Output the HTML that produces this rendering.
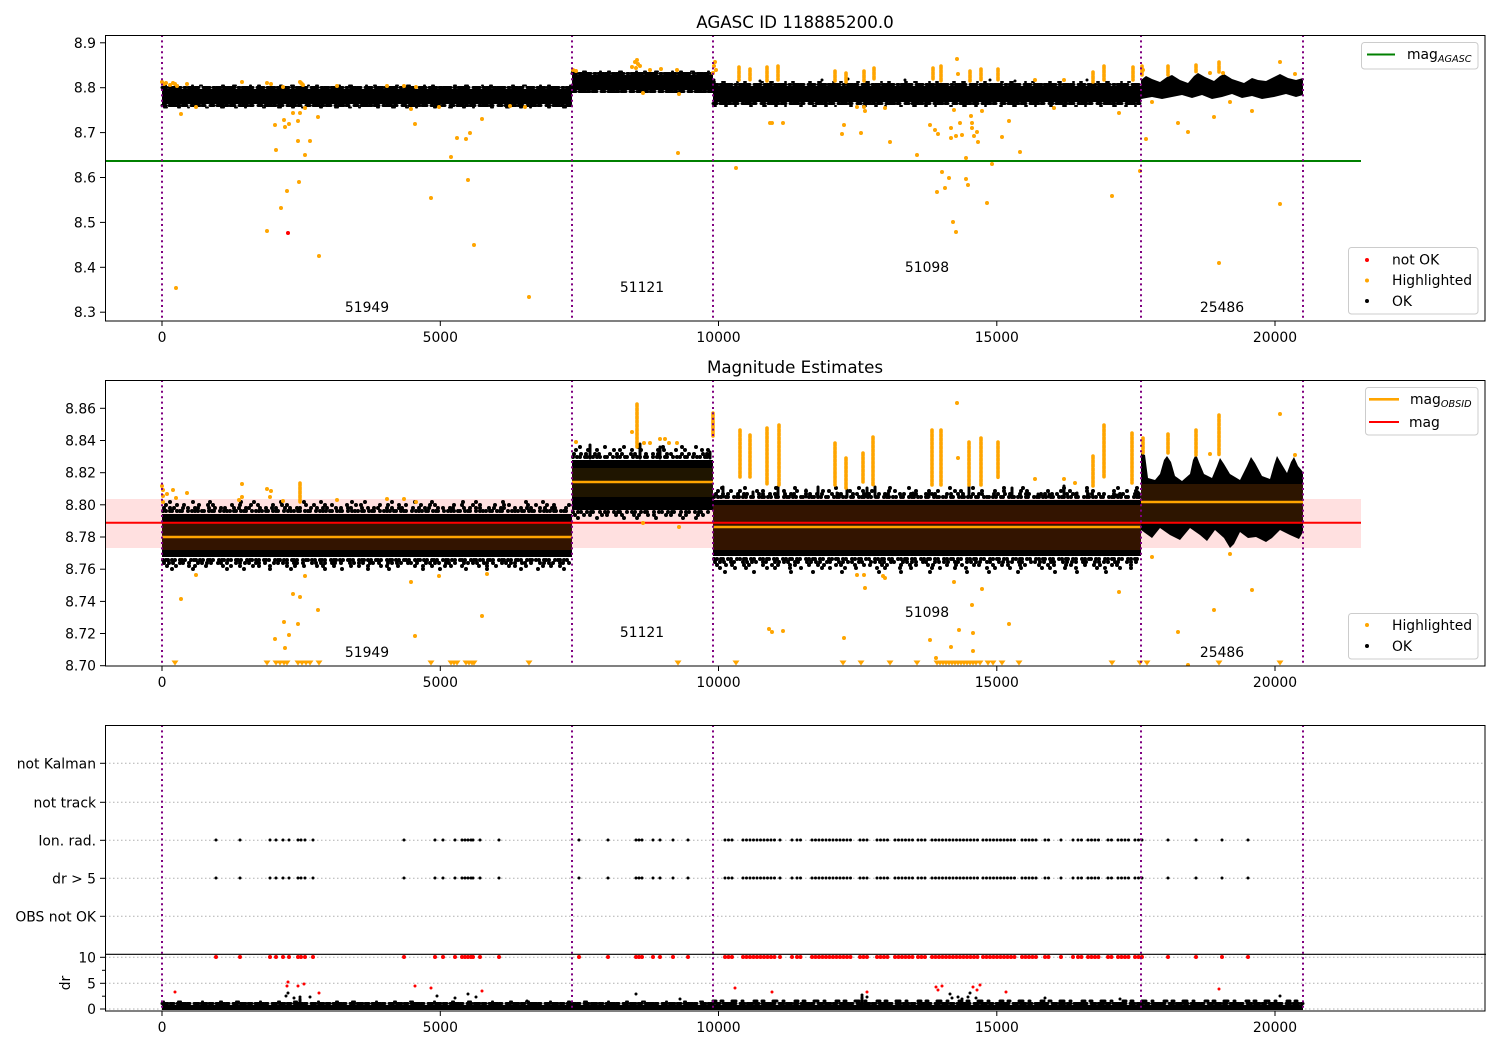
<!DOCTYPE html>
<html><head><meta charset="utf-8">
<style>
html,body{margin:0;padding:0;background:#fff}
svg{display:block}
text{font-family:"DejaVu Sans","Liberation Sans",sans-serif;fill:#000}
.tk{font-size:13.9px}
.bd{stroke:#000;stroke-linecap:round;fill:none}
.od{stroke:#ffa500;stroke-linecap:round;fill:none}
.oc{stroke:#ffa500;stroke-linecap:round;fill:none;stroke-width:3.6;stroke-dasharray:2.5 1.6}
.pv{stroke:#800080;stroke-width:2;stroke-dasharray:2 3.4}
.gr{stroke:#b0b0b0;stroke-width:1;stroke-dasharray:1.5 2.5}
</style></head><body>
<svg width="1500" height="1050" viewBox="0 0 1500 1050" xmlns="http://www.w3.org/2000/svg">
<defs>
<clipPath id="c1"><rect x="105" y="35" width="1380" height="286"/></clipPath>
<clipPath id="c2"><rect x="105" y="380" width="1380" height="286"/></clipPath>
<clipPath id="c3"><rect x="105" y="725" width="1380" height="286"/></clipPath>
</defs>
<rect width="1500" height="1050" fill="#fff"/>

<!-- ================= PANEL 1 ================= -->
<text x="795" y="28" font-size="16.7" text-anchor="middle">AGASC ID 118885200.0</text>
<g clip-path="url(#c1)">
  <line x1="105" x2="1361" y1="161" y2="161" stroke="#008000" stroke-width="2"/>
  <rect x="162" y="89" width="410" height="15" fill="#000"/>
  <line class="bd" x1="162" x2="572" y1="87.5" y2="87.5" stroke-linecap="butt" stroke-width="3" stroke-dasharray="5 2 3 1 8 3 2 2 6 1 4 4 7 3 2 1"/>
  <line class="bd" x1="162" x2="572" y1="105.5" y2="105.5" stroke-linecap="butt" stroke-width="3" stroke-dasharray="4 3 7 1 3 2 5 4 2 1 6 2 3 5"/>
  <line class="bd" x1="164" x2="572" y1="85.5" y2="85.5" stroke-linecap="butt" stroke-width="2" stroke-dasharray="2 9 3 14 1 7 2 20"/>
  <line class="bd" x1="164" x2="572" y1="107.5" y2="107.5" stroke-linecap="butt" stroke-width="2" stroke-dasharray="3 11 2 8 1 17 2 13"/>
  <rect x="572" y="75" width="141" height="15" fill="#000"/>
  <line class="bd" x1="572" x2="713" y1="73.5" y2="73.5" stroke-linecap="butt" stroke-width="3" stroke-dasharray="5 2 3 1 8 3 2 2 6 1"/>
  <line class="bd" x1="572" x2="713" y1="91.5" y2="91.5" stroke-linecap="butt" stroke-width="3" stroke-dasharray="4 3 7 1 3 2 5 4"/>
  <line class="bd" x1="572" x2="713" y1="71.5" y2="71.5" stroke-linecap="butt" stroke-width="2" stroke-dasharray="2 9 3 14 1 7"/>
  <rect x="713" y="86" width="428" height="16" fill="#000"/>
  <line class="bd" x1="713" x2="1141" y1="84.5" y2="84.5" stroke-linecap="butt" stroke-width="3" stroke-dasharray="5 2 3 1 8 3 2 2 6 1 4 4 7 3 2 1"/>
  <line class="bd" x1="713" x2="1141" y1="103.5" y2="103.5" stroke-linecap="butt" stroke-width="3" stroke-dasharray="4 3 7 1 3 2 5 4 2 1 6 2 3 5"/>
  <line class="bd" x1="713" x2="1141" y1="82" y2="82" stroke-linecap="butt" stroke-width="2" stroke-dasharray="2 7 3 12 1 6 2 15"/>
  <line class="bd" x1="713" x2="1141" y1="106" y2="106" stroke-linecap="butt" stroke-width="2" stroke-dasharray="3 9 2 8 1 14 2 11"/>
  <path class="bd" stroke-width="3" d="M714 80h0M760 81h0M822 80h0M848 79h0M905 80h0M990 80h0M1015 81h0M1087 80h0"/>
  <polygon fill="#000" points="1141,80 1146,76 1152,79 1160,82 1167,77 1172,75 1180,80 1188,83 1194,76 1198,73 1205,77 1214,81 1220,76 1224,74 1232,79 1244,83 1252,78 1258,80 1266,81 1274,77 1280,74 1288,78 1296,80 1303,78 1303,95 1296,97 1286,94 1274,97 1262,99 1252,96 1242,98 1232,94 1222,97 1212,99 1202,95 1192,98 1182,95 1172,97 1162,99 1152,97 1141,99"/>
  <path class="od" stroke-width="4" d="M162 82h0M164 84h0M166 83h0M170 85h0M173 83h0M175 84h0M177 86h0M187 84h0M242 82h0M267 83h0M271 84h0M283 87h0M300 82h0M301 83h0M302 84h0M303 85h0M337 86h0M387 86h0M404 86h0M416 87h0M181 114h0M196 107h0M176 288h0M275 125h0M284 120h0M285 127h0M289 124h0M293 113h0M298 121h0M300 113h0M305 108h0M318 117h0M276 150h0M298 141h0M310 141h0M305 155h0M299 182h0M287 191h0M281 208h0M267 231h0M319 256h0M411 109h0M415 124h0M431 198h0M439 107h0M451 157h0M457 138h0M466 139h0M470 133h0M468 180h0M474 245h0M482 119h0M529 297h0M510 106h0M525 107h0
  M632 67h0M635 62h0M637 60h0M638 64h0M636 68h0M640 66h0M643 93h0M650 70h0M661 69h0M677 70h0M679 94h0M678 153h0M573 70h0M576 71h0M715 62h0M714 66h0M716 70h0M713 73h0
  M957 59h0M958 74h0M1035 80h0M1064 80h0M1054 108h0M770 123h0M772 123h0M783 123h0M736 168h0M844 125h0M842 134h0M861 133h0M890 142h0M917 155h0M930 125h0M935 130h0M938 134h0M951 138h0M951 128h0M956 136h0M960 123h0M962 135h0M971 116h0M972 123h0M972 128h0M974 136h0M977 132h0M978 142h0M982 111h0M954 110h0M1002 137h0M1009 121h0M1020 152h0M966 158h0M992 164h0M942 172h0M949 178h0M945 188h0M937 192h0M966 179h0M968 185h0M987 203h0M953 222h0M956 232h0M1112 196h0M1119 113h0M1146 139h0M1140 171h0M857 107h0M864 107h0M865 111h0M885 108h0
  M1152 102h0M1178 123h0M1188 132h0M1214 117h0M1252 111h0M1230 102h0M1280 204h0M1219 263h0M1210 73h0M1223 73h0M1280 62h0M1295 74h0M1143 70h0"/>
  <path class="oc" d="M739 67v13M750 69v11M767 67v14M778 66v14M835 71v10M846 73v9M864 71v10M874 68v12M933 68v12M941 66v15M970 71v10M981 69v11M998 69v11M1093 72v10M1104 66v14M1133 67v13M1142 66v9M1168 66v9M1196 65v8M1219 62v10"/>
  <path stroke="#ff0000" stroke-width="4" stroke-linecap="round" d="M288 233h0"/>
  <g class="pv"><line x1="162" x2="162" y1="35" y2="321"/><line x1="572" x2="572" y1="35" y2="321"/><line x1="713" x2="713" y1="35" y2="321"/><line x1="1141" x2="1141" y1="35" y2="321"/><line x1="1303" x2="1303" y1="35" y2="321"/></g>
  <text class="tk" x="367" y="312" text-anchor="middle">51949</text>
  <text class="tk" x="642" y="292" text-anchor="middle">51121</text>
  <text class="tk" x="927" y="272" text-anchor="middle">51098</text>
  <text class="tk" x="1222" y="312" text-anchor="middle">25486</text>
</g>
<rect x="105.5" y="35.5" width="1379.5" height="285.5" fill="none" stroke="#000" stroke-width="1"/>
<g stroke="#000" stroke-width="1">
  <line x1="162" x2="162" y1="321" y2="326"/><line x1="440.3" x2="440.3" y1="321" y2="326"/><line x1="718.5" x2="718.5" y1="321" y2="326"/><line x1="996.8" x2="996.8" y1="321" y2="326"/><line x1="1275" x2="1275" y1="321" y2="326"/>
  <line x1="100" x2="105" y1="42.8" y2="42.8"/><line x1="100" x2="105" y1="87.7" y2="87.7"/><line x1="100" x2="105" y1="132.6" y2="132.6"/><line x1="100" x2="105" y1="177.5" y2="177.5"/><line x1="100" x2="105" y1="222.4" y2="222.4"/><line x1="100" x2="105" y1="267.3" y2="267.3"/><line x1="100" x2="105" y1="312.2" y2="312.2"/>
</g>
<g class="tk" text-anchor="middle">
  <text x="162" y="342">0</text><text x="440.3" y="342">5000</text><text x="718.5" y="342">10000</text><text x="996.8" y="342">15000</text><text x="1275" y="342">20000</text>
</g>
<g class="tk" text-anchor="end">
  <text x="96" y="47.8">8.9</text><text x="96" y="92.7">8.8</text><text x="96" y="137.6">8.7</text><text x="96" y="182.5">8.6</text><text x="96" y="227.4">8.5</text><text x="96" y="272.3">8.4</text><text x="96" y="317.2">8.3</text>
</g>
<rect x="1361.5" y="42.5" width="116.5" height="26.5" rx="3" fill="#fff" fill-opacity="0.8" stroke="#cccccc"/>
<line x1="1367" x2="1395" y1="54.5" y2="54.5" stroke="#008000" stroke-width="2"/>
<text class="tk" x="1407" y="59">mag<tspan font-size="9.7" font-style="italic" dy="3">AGASC</tspan></text>
<rect x="1348.5" y="247.5" width="129.5" height="66.5" rx="3" fill="#fff" fill-opacity="0.8" stroke="#cccccc"/>
<path stroke="#ff0000" stroke-width="4" stroke-linecap="round" d="M1367 260h0"/>
<path class="od" stroke-width="4" d="M1367 280.5h0"/>
<path class="bd" stroke-width="4" d="M1367 301h0"/>
<text class="tk" x="1392" y="264.5">not OK</text>
<text class="tk" x="1392" y="285">Highlighted</text>
<text class="tk" x="1392" y="306">OK</text>

<!-- ================= PANEL 2 ================= -->
<text x="795" y="373" font-size="16.7" text-anchor="middle">Magnitude Estimates</text>
<g clip-path="url(#c2)">
  <rect x="105" y="499" width="1256" height="49" fill="#ffe0e0"/>
  <rect x="162" y="514" width="410" height="43" fill="#000"/>
  <rect x="572" y="460" width="141" height="50" fill="#000"/>
  <rect x="713" y="500" width="428" height="56" fill="#000"/>
  <polygon fill="#000" points="1141,453 1145,455 1148,478 1155,480 1160,474 1164,460 1167,456 1171,462 1175,476 1182,481 1190,474 1193,460 1196,454 1199,462 1204,474 1212,478 1217,466 1220,458 1224,464 1230,474 1240,480 1247,466 1251,457 1255,463 1262,476 1270,479 1274,465 1277,456 1281,463 1287,473 1291,462 1294,457 1298,466 1303,472 1303,532 1299,539 1290,535 1280,530 1272,538 1266,542 1256,537 1248,538 1240,532 1234,544 1230,548 1224,538 1215,530 1207,541 1200,535 1190,528 1180,540 1170,535 1160,528 1152,538 1141,530"/>
  <g class="bd" stroke-width="4">
    <line x1="163" x2="571" y1="511" y2="511" stroke-dasharray="0 3 0 4 0 2 0 5 0 3 0 2 0 6 0 4 0 3"/>
    <line x1="164" x2="571" y1="508" y2="508" stroke-dasharray="0 6 0 4 0 9 0 5 0 7 0 3 0 11 0 6"/>
    <line x1="166" x2="571" y1="505" y2="505" stroke-dasharray="0 11 0 7 0 15 0 9 0 5 0 19 0 8"/>
    <line x1="170" x2="571" y1="502" y2="502" stroke-dasharray="0 23 0 17 0 31 0 13 0 27"/>
    <line x1="163" x2="571" y1="560" y2="560" stroke-dasharray="0 3 0 2 0 4 0 3 0 5 0 2 0 3 0 6"/>
    <line x1="164" x2="571" y1="563" y2="563" stroke-dasharray="0 5 0 4 0 7 0 3 0 6 0 9 0 4"/>
    <line x1="167" x2="571" y1="566" y2="566" stroke-dasharray="0 9 0 13 0 6 0 11 0 17 0 8"/>
    <line x1="172" x2="571" y1="569" y2="569" stroke-dasharray="0 21 0 34 0 17 0 26"/>
    <line x1="573" x2="712" y1="457" y2="457" stroke-dasharray="0 4 0 3 0 5 0 2 0 6"/>
    <line x1="574" x2="712" y1="454" y2="454" stroke-dasharray="0 7 0 5 0 9 0 4 0 11"/>
    <line x1="576" x2="712" y1="450" y2="450" stroke-dasharray="0 12 0 9 0 17 0 6"/>
    <line x1="580" x2="712" y1="447" y2="447" stroke-dasharray="0 25 0 19 0 14"/>
    <line x1="573" x2="712" y1="512" y2="512" stroke-dasharray="0 5 0 3 0 6 0 4 0 2 0 7"/>
    <line x1="575" x2="712" y1="515" y2="515" stroke-dasharray="0 9 0 6 0 12 0 5"/>
    <line x1="578" x2="712" y1="518" y2="518" stroke-dasharray="0 19 0 27 0 13"/>
    <line x1="714" x2="1140" y1="497" y2="497" stroke-dasharray="0 4 0 3 0 5 0 2 0 6 0 3 0 2"/>
    <line x1="716" x2="1140" y1="494" y2="494" stroke-dasharray="0 7 0 5 0 10 0 6 0 3 0 12 0 4"/>
    <line x1="718" x2="1140" y1="491" y2="491" stroke-dasharray="0 13 0 9 0 17 0 6 0 21"/>
    <line x1="722" x2="1140" y1="488" y2="488" stroke-dasharray="0 23 0 31 0 19 0 41"/>
    <line x1="714" x2="1140" y1="559" y2="559" stroke-dasharray="0 3 0 4 0 2 0 5 0 3 0 6"/>
    <line x1="715" x2="1140" y1="562" y2="562" stroke-dasharray="0 5 0 4 0 7 0 3 0 9 0 4"/>
    <line x1="717" x2="1140" y1="565" y2="565" stroke-dasharray="0 9 0 6 0 12 0 5 0 14"/>
    <line x1="720" x2="1140" y1="568" y2="568" stroke-dasharray="0 15 0 11 0 21 0 8"/>
    <line x1="725" x2="1140" y1="572" y2="572" stroke-dasharray="0 29 0 37 0 22"/>
  </g>
  <path class="bd" stroke-width="3" d="M723 487V497M753 492V497M778 487V497M806 490V497M818 487V497M837 493V497M847 490V497M867 488V497M875 487V497M913 493V497M929 491V497M969 487V497M1012 488V497M1038 494V497M1049 494V497M1064 486V497M1077 493V497M1117 495V497M1138 492V497M590 445V458M640 444V458M660 447V458M710 452V458"/>
  <rect x="162" y="523" width="410" height="27" fill="#331400"/>
  <rect x="572" y="468" width="141" height="29" fill="#1f1500"/>
  <rect x="713" y="505" width="428" height="45" fill="#331400"/>
  <rect x="1141" y="484" width="162" height="38" fill="#2d1500"/>
  <line x1="105" x2="1361" y1="522.7" y2="522.7" stroke="#ff0000" stroke-width="2"/>
  <g stroke="#ffa500" stroke-width="2.6">
    <line x1="162" x2="572" y1="537" y2="537"/>
    <line x1="572" x2="713" y1="482" y2="482"/>
    <line x1="713" x2="1141" y1="527" y2="527"/>
    <line x1="1141" x2="1303" y1="502" y2="502"/>
  </g>
  <path class="od" stroke-width="4" d="M162 486h0M163 490h0M163 496h0M163 502h0M167 494h0M173 490h0M176 498h0M187 493h0M181 599h0M196 575h0M242 484h0M239 500h0M242 497h0M267 489h0M271 491h0M270 497h0M283 501h0M275 639h0M284 622h0M285 648h0M289 635h0M293 594h0M298 624h0M300 597h0M305 576h0M318 610h0M337 500h0M387 499h0M404 499h0M416 502h0M411 582h0M415 636h0M439 576h0M482 616h0M487 574h0
  M632 432h0M576 442h0M644 443h0M650 443h0M660 439h0M665 439h0M669 443h0M677 443h0M643 523h0M679 527h0
  M957 403h0M958 458h0M769 629h0M772 632h0M783 631h0M844 638h0M857 575h0M864 575h0M865 588h0M883 576h0M885 578h0M954 582h0M982 589h0M972 605h0M959 630h0M973 633h0M951 647h0M930 640h0M936 658h0M973 651h0M1009 624h0M1035 479h0M1064 479h0M1075 483h0M1210 454h0M1280 414h0M1295 455h0M1152 557h0M1119 592h0M1230 554h0M1252 590h0M1214 610h0M1178 632h0M1188 665h0"/>
  <path class="oc" d="M300 483v19M637 404v43M713 413v24M740 430v47M750 435v42M767 428v57M779 425v60M835 443v42M846 458v30M863 453v29M873 437v48M932 430v55M941 430v55M969 442v43M981 438v47M998 442v36M1093 456v30M1104 425v52M1132 433v50M1143 438v15M1168 434v19M1196 430v25M1219 415v40"/>
  <path fill="#ffa500" d="M171.5 660.5h7l-3.5 5zM263.5 660.5h7l-3.5 5zM272.5 660.5h7l-3.5 5zM276.5 660.5h7l-3.5 5zM280.5 660.5h7l-3.5 5zM283.5 660.5h7l-3.5 5zM294.5 660.5h7l-3.5 5zM298.5 660.5h7l-3.5 5zM302.5 660.5h7l-3.5 5zM306.5 660.5h7l-3.5 5zM315.5 660.5h7l-3.5 5zM427.5 660.5h7l-3.5 5zM447.5 660.5h7l-3.5 5zM450.5 660.5h7l-3.5 5zM453.5 660.5h7l-3.5 5zM462.5 660.5h7l-3.5 5zM465.5 660.5h7l-3.5 5zM468.5 660.5h7l-3.5 5zM470.5 660.5h7l-3.5 5zM525.5 660.5h7l-3.5 5zM674.5 660.5h7l-3.5 5zM732.5 660.5h7l-3.5 5zM839.5 660.5h7l-3.5 5zM857.5 660.5h7l-3.5 5zM886.5 660.5h7l-3.5 5zM913.5 660.5h7l-3.5 5zM933.5 660.5h7l-3.5 5zM936.5 660.5h7l-3.5 5zM939.5 660.5h7l-3.5 5zM942.5 660.5h7l-3.5 5zM945.5 660.5h7l-3.5 5zM948.5 660.5h7l-3.5 5zM951.5 660.5h7l-3.5 5zM954.5 660.5h7l-3.5 5zM957.5 660.5h7l-3.5 5zM960.5 660.5h7l-3.5 5zM963.5 660.5h7l-3.5 5zM966.5 660.5h7l-3.5 5zM969.5 660.5h7l-3.5 5zM972.5 660.5h7l-3.5 5zM976.5 660.5h7l-3.5 5zM984.5 660.5h7l-3.5 5zM989.5 660.5h7l-3.5 5zM998.5 660.5h7l-3.5 5zM1015.5 660.5h7l-3.5 5zM1108.5 660.5h7l-3.5 5zM1136.5 660.5h7l-3.5 5zM1143.5 660.5h7l-3.5 5zM1215.5 660.5h7l-3.5 5zM1276.5 660.5h7l-3.5 5z"/>
  <g class="pv"><line x1="162" x2="162" y1="380" y2="666"/><line x1="572" x2="572" y1="380" y2="666"/><line x1="713" x2="713" y1="380" y2="666"/><line x1="1141" x2="1141" y1="380" y2="666"/><line x1="1303" x2="1303" y1="380" y2="666"/></g>
  <text class="tk" x="367" y="657" text-anchor="middle">51949</text>
  <text class="tk" x="642" y="637" text-anchor="middle">51121</text>
  <text class="tk" x="927" y="617" text-anchor="middle">51098</text>
  <text class="tk" x="1222" y="657" text-anchor="middle">25486</text>
</g>
<rect x="105.5" y="380.5" width="1379.5" height="285.5" fill="none" stroke="#000" stroke-width="1"/>
<g stroke="#000" stroke-width="1">
  <line x1="162" x2="162" y1="666" y2="671"/><line x1="440.3" x2="440.3" y1="666" y2="671"/><line x1="718.5" x2="718.5" y1="666" y2="671"/><line x1="996.8" x2="996.8" y1="666" y2="671"/><line x1="1275" x2="1275" y1="666" y2="671"/>
  <line x1="100" x2="105" y1="408.3" y2="408.3"/><line x1="100" x2="105" y1="440.5" y2="440.5"/><line x1="100" x2="105" y1="472.7" y2="472.7"/><line x1="100" x2="105" y1="504.8" y2="504.8"/><line x1="100" x2="105" y1="537" y2="537"/><line x1="100" x2="105" y1="569.2" y2="569.2"/><line x1="100" x2="105" y1="601.4" y2="601.4"/><line x1="100" x2="105" y1="633.5" y2="633.5"/><line x1="100" x2="105" y1="665.7" y2="665.7"/>
</g>
<g class="tk" text-anchor="middle">
  <text x="162" y="687">0</text><text x="440.3" y="687">5000</text><text x="718.5" y="687">10000</text><text x="996.8" y="687">15000</text><text x="1275" y="687">20000</text>
</g>
<g class="tk" text-anchor="end">
  <text x="96" y="413.3">8.86</text><text x="96" y="445.5">8.84</text><text x="96" y="477.7">8.82</text><text x="96" y="509.8">8.80</text><text x="96" y="542">8.78</text><text x="96" y="574.2">8.76</text><text x="96" y="606.4">8.74</text><text x="96" y="638.5">8.72</text><text x="96" y="670.7">8.70</text>
</g>
<rect x="1365.5" y="387.5" width="112.5" height="47.5" rx="3" fill="#fff" fill-opacity="0.8" stroke="#cccccc"/>
<line x1="1369" x2="1399" y1="399.3" y2="399.3" stroke="#ffa500" stroke-width="2.6"/>
<text class="tk" x="1410" y="404">mag<tspan font-size="9.7" font-style="italic" dy="3">OBSID</tspan></text>
<line x1="1369" x2="1399" y1="422" y2="422" stroke="#ff0000" stroke-width="2"/>
<text class="tk" x="1409" y="427">mag</text>
<rect x="1348.5" y="613.5" width="129.5" height="45.5" rx="3" fill="#fff" fill-opacity="0.8" stroke="#cccccc"/>
<path class="od" stroke-width="4" d="M1367 625h0"/>
<path class="bd" stroke-width="4" d="M1367 646h0"/>
<text class="tk" x="1392" y="630">Highlighted</text>
<text class="tk" x="1392" y="651">OK</text>

<!-- ================= PANEL 3 ================= -->
<g clip-path="url(#c3)">
  <g class="gr">
    <line x1="105" x2="1485" y1="763.3" y2="763.3"/><line x1="105" x2="1485" y1="802.3" y2="802.3"/><line x1="105" x2="1485" y1="840.3" y2="840.3"/><line x1="105" x2="1485" y1="878.3" y2="878.3"/><line x1="105" x2="1485" y1="916.3" y2="916.3"/>
    <line x1="105" x2="1485" y1="957.3" y2="957.3"/><line x1="105" x2="1485" y1="983.3" y2="983.3"/><line x1="105" x2="1485" y1="1009" y2="1009"/>
  </g>
  <path class="bd" stroke-width="3" d="M216 840h0M240 840h0M270 840h0M276 840h0M283 840h0M289 840h0M298 840h0M301 840h0M305 840h0M313 840h0M404 840h0M435 840h0M443 840h0M455 840h0M462 840h0M465 840h0M468 840h0M471 840h0M473 840h0M480 840h0M499 840h0M579 840h0M608 840h0M636 840h0M639 840h0M642 840h0M653 840h0M660 840h0M673 840h0M688 840h0M792 840h0M1061 840h0M1073 840h0M1168 840h0M1196 840h0M1222 840h0M1248 840h0"/>
  <path class="bd" stroke-width="3" stroke-dasharray="0 3.5" d="M725 840H733M743 840H777M780 840H783M797 840H803M812 840H853M860 840H870M877 840H890M895 840H913M918 840H927M932 840H980M983 840H1018M1022 840H1038M1045 840H1052M1078 840H1082M1088 840H1100M1108 840H1113M1118 840H1130M1135 840H1143"/>
  <path class="bd" stroke-width="3" d="M216 878h0M240 878h0M270 878h0M276 878h0M283 878h0M289 878h0M298 878h0M301 878h0M305 878h0M313 878h0M404 878h0M435 878h0M443 878h0M455 878h0M462 878h0M465 878h0M468 878h0M471 878h0M473 878h0M480 878h0M499 878h0M579 878h0M608 878h0M636 878h0M639 878h0M642 878h0M653 878h0M660 878h0M673 878h0M688 878h0M792 878h0M1061 878h0M1073 878h0M1168 878h0M1196 878h0M1222 878h0M1248 878h0"/>
  <path class="bd" stroke-width="3" stroke-dasharray="0 3.5" d="M725 878H733M743 878H777M780 878H783M797 878H803M812 878H853M860 878H870M877 878H890M895 878H913M918 878H927M932 878H980M983 878H1018M1022 878H1038M1045 878H1052M1078 878H1082M1088 878H1100M1108 878H1113M1118 878H1130M1135 878H1143"/>
  <path stroke="#ff0000" fill="none" stroke-linecap="round" stroke-width="4" d="M216 957h0M240 957h0M270 957h0M276 957h0M283 957h0M289 957h0M298 957h0M301 957h0M305 957h0M313 957h0M404 957h0M435 957h0M443 957h0M455 957h0M462 957h0M465 957h0M468 957h0M471 957h0M473 957h0M480 957h0M499 957h0M579 957h0M608 957h0M636 957h0M639 957h0M642 957h0M653 957h0M660 957h0M673 957h0M688 957h0M792 957h0M1061 957h0M1073 957h0M1168 957h0M1196 957h0M1222 957h0M1248 957h0"/>
  <path stroke="#ff0000" fill="none" stroke-linecap="round" stroke-width="4" stroke-dasharray="0 3.5" d="M725 957H733M743 957H777M780 957H783M797 957H803M812 957H853M860 957H870M877 957H890M895 957H913M918 957H927M932 957H980M983 957H1018M1022 957H1038M1045 957H1052M1078 957H1082M1088 957H1100M1108 957H1113M1118 957H1130M1135 957H1143"/>
  <rect x="162" y="1005" width="1141" height="5" fill="#000"/>
  <line class="bd" x1="162" x2="1303" y1="1003.5" y2="1003.5" stroke-linecap="butt" stroke-width="3" stroke-dasharray="6 2 4 3 9 1 3 4 5 2"/>
  <line class="bd" x1="713" x2="1303" y1="1001" y2="1001" stroke-linecap="butt" stroke-width="3" stroke-dasharray="3 5 2 9 4 6 1 11"/>
  <line class="bd" x1="162" x2="713" y1="1001.5" y2="1001.5" stroke-linecap="butt" stroke-width="2" stroke-dasharray="2 14 3 21 1 17"/>
  <path class="bd" stroke-width="3" d="M288 993h0M286 996h0M300 997h0M294 998h0M310 997h0M437 996h0M455 998h0M468 994h0M476 997h0M527 1001h0M636 994h0M680 999h0M862 995h0M867 997h0M950 994h0M952 998h0M958 997h0M962 999h0M968 997h0M970 993h0M976 998h0M1280 996h0M1045 998h0M1120 999h0M300 999v6M862 997v8"/>
  <path stroke="#ff0000" fill="none" stroke-linecap="round" stroke-width="3" d="M175 992h0M288 982h0M287 986h0M298 986h0M304 984h0M319 993h0M415 986h0M431 988h0M482 991h0M735 988h0M772 992h0M867 992h0M936 987h0M938 990h0M942 986h0M973 987h0M977 990h0M980 985h0M1006 992h0M1219 989h0"/>
  <g class="pv"><line x1="162" x2="162" y1="725" y2="1011"/><line x1="572" x2="572" y1="725" y2="1011"/><line x1="713" x2="713" y1="725" y2="1011"/><line x1="1141" x2="1141" y1="725" y2="1011"/><line x1="1303" x2="1303" y1="725" y2="1011"/></g>
</g>
<rect x="105.5" y="725.5" width="1379.5" height="285.5" fill="none" stroke="#000" stroke-width="1"/>
<line x1="105" x2="1486" y1="954.3" y2="954.3" stroke="#000" stroke-width="1.2"/>
<g stroke="#000" stroke-width="1">
  <line x1="162" x2="162" y1="1011" y2="1016"/><line x1="440.3" x2="440.3" y1="1011" y2="1016"/><line x1="718.5" x2="718.5" y1="1011" y2="1016"/><line x1="996.8" x2="996.8" y1="1011" y2="1016"/><line x1="1275" x2="1275" y1="1011" y2="1016"/>
  <line x1="100" x2="105" y1="763.3" y2="763.3"/><line x1="100" x2="105" y1="802.3" y2="802.3"/><line x1="100" x2="105" y1="840.3" y2="840.3"/><line x1="100" x2="105" y1="878.3" y2="878.3"/><line x1="100" x2="105" y1="916.3" y2="916.3"/>
  <line x1="100" x2="105" y1="957.3" y2="957.3"/><line x1="100" x2="105" y1="983.3" y2="983.3"/><line x1="100" x2="105" y1="1009" y2="1009"/>
  <line x1="102" x2="105" y1="970.3" y2="970.3"/><line x1="102" x2="105" y1="996.2" y2="996.2"/>
</g>
<g class="tk" text-anchor="middle">
  <text x="162" y="1032">0</text><text x="440.3" y="1032">5000</text><text x="718.5" y="1032">10000</text><text x="996.8" y="1032">15000</text><text x="1275" y="1032">20000</text>
</g>
<g class="tk" text-anchor="end">
  <text x="96" y="768.3">not Kalman</text><text x="96" y="807.3">not track</text><text x="96" y="845.3">Ion. rad.</text><text x="96" y="883.3">dr &gt; 5</text><text x="96" y="921.3">OBS not OK</text>
  <text x="96" y="962.3">10</text><text x="96" y="988.3">5</text><text x="96" y="1014">0</text>
</g>
<text class="tk" x="70" y="983" text-anchor="middle" transform="rotate(-90 70 983)">dr</text>
</svg>
</body></html>
